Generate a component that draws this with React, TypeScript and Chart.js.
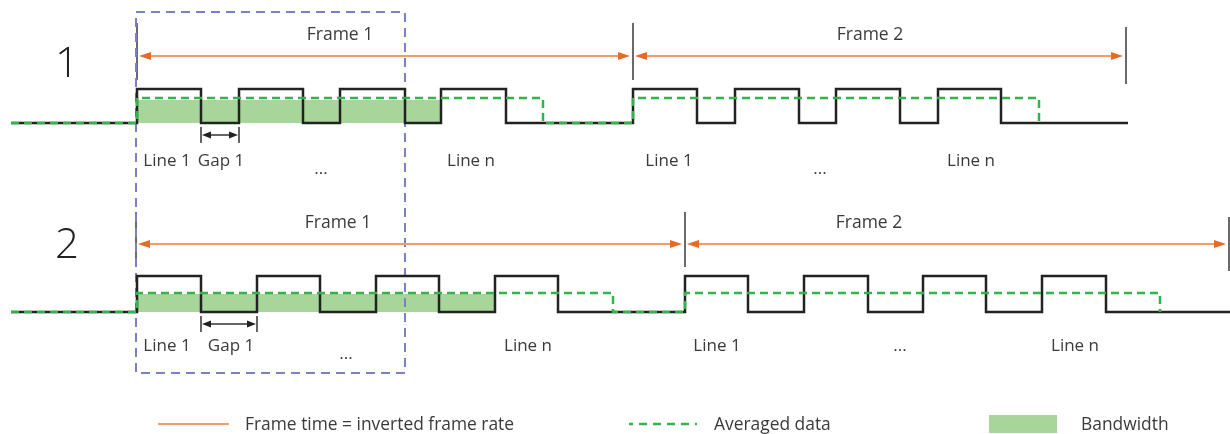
import React, { useEffect, useRef } from "react";
import { Chart, registerables } from "chart.js";

Chart.register(...registerables);

const W = 1230;
const H = 434;

// ---------- Row 1 (timing in x units, levels in y units) ----------
const row1Start = 11;
const row1End = 1128;
const row1Rises = [137, 239, 340, 441, 633, 735, 836, 938];
const row1Falls = [201, 303, 405, 506, 697, 799, 900, 1001];
const row1High = 89;
const row1Low = 123;
const row1Avg = 98;
const row1FillTop = 100;
const row1AvgSegments = [[137, 543], [633, 1039]];
const row1Bandwidth = [137, 441];
const row1FrameBounds = [137, 633, 1126];
const row1ArrowY = 56;
const row1TickTop = [23, 23, 27];
const row1TickBottom = [80, 80, 84];
const row1Gap = [201, 239];
const row1GapY = 135;

// ---------- Row 2 ----------
const row2Start = 11;
const row2End = 1230;
const row2Rises = [137, 257, 376, 495, 685, 804, 923, 1042];
const row2Falls = [201, 320, 439, 558, 748, 868, 986, 1106];
const row2High = 276;
const row2Low = 312;
const row2Avg = 293;
const row2FillTop = 294;
const row2AvgSegments = [[137, 613], [685, 1160]];
const row2Bandwidth = [137, 495];
const row2FrameBounds = [136, 685, 1229];
const row2ArrowY = 244;
const row2TickTop = [212, 212, 217];
const row2TickBottom = [267, 267, 271];
const row2Gap = [201, 257];
const row2GapY = 324;

// dashed selection box
const boxX = [136, 405];
const boxY = [12, 373];

// labels: [text, x, baselineY]
const frameLabels: [string, number, number][] = [
  ["Frame 1", 340, 40],
  ["Frame 2", 870, 40],
  ["Frame 1", 338, 228],
  ["Frame 2", 869, 228],
];
const lineLabels: [string, number, number][] = [
  ["Line 1", 167, 166],
  ["Gap 1", 221, 166],
  ["...", 321, 174],
  ["Line n", 471, 166],
  ["Line 1", 669, 166],
  ["...", 820, 174],
  ["Line n", 971, 166],
  ["Line 1", 167, 351],
  ["Gap 1", 231, 351],
  ["...", 346, 359],
  ["Line n", 528, 351],
  ["Line 1", 717, 351],
  ["...", 900, 351],
  ["Line n", 1075, 351],
];
const rowLabels: [string, number, number][] = [
  ["1", 67, 77],
  ["2", 67, 258],
];
const legendLabels = ["Frame time = inverted frame rate", "Averaged data", "Bandwidth"];

const BLACK = "#222222";
const GREEN = "#33b44a";
const FILL = "#a8d59a";
const ORANGE_LINE = "#f19c6b";
const ORANGE_HEAD = "#e96a24";
const TICK = "#6a6a6a";
const BOX = "#7a80c4";
const TEXT = "#3a3a3a";
const FONT = "'Open Sans', 'Noto Sans', sans-serif";

type P = { x: number; y: number };

function signalPoints(start: number, end: number, rises: number[], falls: number[], hi: number, lo: number): P[] {
  const pts: P[] = [{ x: start, y: lo }];
  rises.forEach((r, i) => {
    pts.push({ x: r, y: lo }, { x: r, y: hi }, { x: falls[i], y: hi }, { x: falls[i], y: lo });
  });
  pts.push({ x: end, y: lo });
  return pts;
}

function avgPoints(start: number, segs: number[][], avg: number, lo: number): P[] {
  const pts: P[] = [{ x: start, y: lo }];
  segs.forEach(([a, b]) => {
    pts.push({ x: a, y: lo }, { x: a, y: avg }, { x: b, y: avg }, { x: b, y: lo });
  });
  return pts;
}

function lineDs(data: P[], color: string, width: number, order: number, dash: number[] = []) {
  return {
    data,
    showLine: true,
    borderColor: color,
    borderWidth: width,
    borderDash: dash,
    pointRadius: 0,
    fill: false,
    tension: 0,
    borderJoinStyle: "miter" as const,
    borderCapStyle: "butt" as const,
    order,
  };
}

function fillDs(range: number[], top: number, lo: number) {
  return {
    data: [{ x: range[0], y: top }, { x: range[1], y: top }],
    showLine: true,
    borderWidth: 0,
    borderColor: "rgba(0,0,0,0)",
    backgroundColor: FILL,
    pointRadius: 0,
    fill: { value: lo },
    order: 10,
  };
}

function tickDs(xs: number[], tops: number[], bottoms: number[]) {
  return xs.map((x, i) => lineDs([{ x, y: tops[i] }, { x, y: bottoms[i] }], TICK, 2, 5));
}

const overlayPlugin = {
  id: "overlay",
  afterDatasetsDraw(chart: any) {
    const { ctx, scales } = chart;
    const px = (v: number) => scales.x.getPixelForValue(v);
    const py = (v: number) => scales.y.getPixelForValue(v);

    const head = (tipX: number, y: number, dir: number, len: number, half: number, color: string) => {
      ctx.save();
      ctx.fillStyle = color;
      ctx.beginPath();
      ctx.moveTo(px(tipX), py(y));
      ctx.lineTo(px(tipX) - dir * len, py(y) - half);
      ctx.lineTo(px(tipX) - dir * len, py(y) + half);
      ctx.closePath();
      ctx.fill();
      ctx.restore();
    };

    // frame arrows
    const frameArrows = (bounds: number[], y: number) => {
      for (let i = 0; i < bounds.length - 1; i++) {
        const a = bounds[i] + 2;
        const b = bounds[i + 1] - 3;
        ctx.save();
        ctx.strokeStyle = ORANGE_LINE;
        ctx.lineWidth = 2;
        ctx.beginPath();
        ctx.moveTo(px(a + 8), py(y));
        ctx.lineTo(px(b - 8), py(y));
        ctx.stroke();
        ctx.restore();
        head(a, y, -1, 12, 4, ORANGE_HEAD);
        head(b, y, 1, 12, 4, ORANGE_HEAD);
      }
    };
    frameArrows(row1FrameBounds, row1ArrowY);
    frameArrows(row2FrameBounds, row2ArrowY);

    // gap arrows
    const gapArrow = (g: number[], y: number) => {
      ctx.save();
      ctx.strokeStyle = "#333";
      ctx.lineWidth = 1.5;
      ctx.beginPath();
      ctx.moveTo(px(g[0] + 6), py(y));
      ctx.lineTo(px(g[1] - 6), py(y));
      g.forEach((x) => {
        ctx.moveTo(px(x), py(y - 8));
        ctx.lineTo(px(x), py(y + 8));
      });
      ctx.stroke();
      ctx.restore();
      head(g[0] + 1, y, -1, 9, 3.5, "#222");
      head(g[1] - 1, y, 1, 9, 3.5, "#222");
    };
    gapArrow(row1Gap, row1GapY);
    gapArrow(row2Gap, row2GapY);

    // text
    ctx.save();
    ctx.fillStyle = TEXT;
    ctx.textBaseline = "alphabetic";
    ctx.textAlign = "center";
    ctx.font = `17.5px ${FONT}`;
    frameLabels.forEach(([t, x, y]) => ctx.fillText(t, px(x), py(y)));
    ctx.font = `17px ${FONT}`;
    lineLabels.forEach(([t, x, y]) => ctx.fillText(t, px(x), py(y)));
    ctx.font = `300 42px ${FONT}`;
    ctx.fillStyle = "#222";
    rowLabels.forEach(([t, x, y]) => ctx.fillText(t, px(x), py(y)));
    ctx.restore();

    // legend
    ctx.save();
    const ly = 424;
    ctx.lineWidth = 2;
    ctx.strokeStyle = ORANGE_LINE;
    ctx.beginPath();
    ctx.moveTo(158, ly);
    ctx.lineTo(229, ly);
    ctx.stroke();
    ctx.strokeStyle = GREEN;
    ctx.lineWidth = 2.5;
    ctx.setLineDash([8, 6]);
    ctx.lineDashOffset = 4;
    ctx.beginPath();
    ctx.moveTo(629, ly);
    ctx.lineTo(697, ly);
    ctx.stroke();
    ctx.setLineDash([]);
    ctx.fillStyle = FILL;
    ctx.fillRect(989, 415, 68, 18);
    ctx.fillStyle = TEXT;
    ctx.font = `17.4px ${FONT}`;
    ctx.textAlign = "left";
    ctx.textBaseline = "alphabetic";
    ctx.fillText(legendLabels[0], 245, 430);
    ctx.fillText(legendLabels[1], 714, 430);
    ctx.fillText(legendLabels[2], 1081, 430);
    ctx.restore();
  },
};

export default function App() {
  const ref = useRef<HTMLCanvasElement | null>(null);

  useEffect(() => {
    document.body.style.margin = "0";
    if (!ref.current) return;
    const boxPts: P[] = [
      { x: boxX[0], y: boxY[0] },
      { x: boxX[1], y: boxY[0] },
      { x: boxX[1], y: boxY[1] },
      { x: boxX[0], y: boxY[1] },
      { x: boxX[0], y: boxY[0] },
    ];
    const datasets: any[] = [
      fillDs(row1Bandwidth, row1FillTop, row1Low),
      fillDs(row2Bandwidth, row2FillTop, row2Low),
      lineDs(boxPts, BOX, 2, 4, [9, 6]),
      ...tickDs(row1FrameBounds, row1TickTop, row1TickBottom),
      ...tickDs(row2FrameBounds, row2TickTop, row2TickBottom),
      lineDs(signalPoints(row1Start, row1End, row1Rises, row1Falls, row1High, row1Low), BLACK, 2.5, 2),
      lineDs(signalPoints(row2Start, row2End, row2Rises, row2Falls, row2High, row2Low), BLACK, 2.5, 2),
      lineDs(avgPoints(row1Start, row1AvgSegments, row1Avg, row1Low), GREEN, 2.5, 1, [8, 5]),
      lineDs(avgPoints(row2Start, row2AvgSegments, row2Avg, row2Low), GREEN, 2.5, 1, [8, 5]),
    ];
    const chart = new Chart(ref.current, {
      type: "scatter",
      data: { datasets },
      options: {
        animation: false,
        responsive: false,
        devicePixelRatio: 1,
        events: [],
        layout: { padding: 0 },
        plugins: { legend: { display: false }, tooltip: { enabled: false } },
        scales: {
          x: { type: "linear", min: 0, max: W, display: false },
          y: { type: "linear", min: 0, max: H, reverse: true, display: false },
        },
      },
      plugins: [overlayPlugin],
    });
    return () => chart.destroy();
  }, []);

  return (
    <div style={{ position: "fixed", left: 0, top: 0, width: W, height: H, background: "#fff" }}>
      <canvas ref={ref} width={W} height={H} style={{ display: "block", width: W, height: H }} />
    </div>
  );
}
